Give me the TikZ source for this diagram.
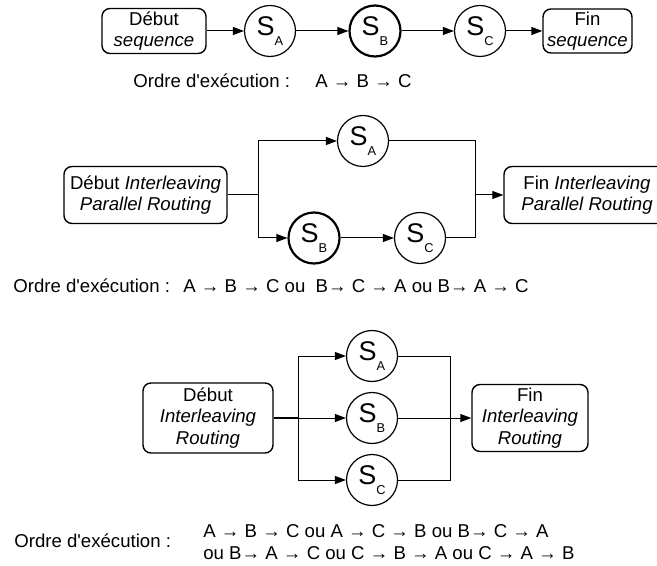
\documentclass[tikz,border=0pt]{standalone}
\usepackage{fontspec}
\setmainfont{Liberation Sans}
\usetikzlibrary{arrows.meta}

\newcommand{\serv}[1]{{\fontsize{13.5}{13.5}\selectfont S}\raisebox{-5pt}{\fontsize{6.4}{6.4}\selectfont #1}}
\newcommand{\ordre}{Ordre d\textquotesingle ex\'ecution :}

\begin{document}
\begin{tikzpicture}[x=0.5pt,y=-0.5pt,
    >={Triangle[length=5.5pt,width=4pt]},
    every node/.style={font=\fontsize{9.3}{10.75}\selectfont},
    boite/.style={draw,rounded corners=4pt,line width=0.7pt,align=center,inner sep=0pt},
    service/.style={draw,circle,line width=0.6pt,minimum size=25.5pt,inner sep=0pt},
    courant/.style={service,line width=1.1pt},
    texte/.style={anchor=west,inner sep=0pt},
    lien/.style={line width=0.5pt}]
            \useasboundingbox (0,0) rectangle (657,566);

            % Sequence
            \node[boite,minimum width=52pt,minimum height=22.5pt] (debutS) at (154,31) {D\'ebut\\\textit{sequence}};
            \node[service] (sA1) at (270,31) {\serv{A}};
            \node[courant] (sB1) at (375,31) {\serv{B}};
            \node[service] (sC1) at (480,31) {\serv{C}};
            \node[boite,minimum width=44.5pt,minimum height=22pt] (finS) at (587.5,31) {Fin\\\textit{sequence}};
            \draw[lien,->] (debutS) -- (sA1);
            \draw[lien,->] (sA1) -- (sB1);
            \draw[lien,->] (sB1) -- (sC1);
            \draw[lien,->] (sC1) -- (finS);

            \node[texte] (ordreS) at (133,81) {\ordre};
            \node[texte] (seqS) at (315,81) {A → B → C};

            % Interleaving parallel routing
            \node[boite,minimum width=81.5pt,minimum height=28.5pt] (debutP) at (145.5,195) {D\'ebut \textit{Interleaving}\\\textit{Parallel Routing}};
            \node[service] (sA2) at (363,141) {\serv{A}};
            \node[courant] (sB2) at (314,238) {\serv{B}};
            \node[service] (sC2) at (420,238) {\serv{C}};
            \node[boite,minimum width=83pt,minimum height=28.5pt] (finP) at (587,195) {Fin \textit{Interleaving}\\\textit{Parallel Routing}};
            \coordinate (forkP) at (258,195);
            \coordinate (joinP) at (475,195);
            \draw[lien,->] (debutP) -- (forkP) |- (sA2);
            \draw[lien,->] (forkP) |- (sB2);
            \draw[lien,->] (sB2) -- (sC2);
            \draw[lien] (sA2) -| (joinP);
            \draw[lien] (sC2) -| (joinP);
            \draw[lien,->] (joinP) -- (finP);

            \node[texte] (ordreP) at (13,286) {\ordre};
            \node[texte] (seqP) at (183,286) {A → B → C ou \ B→ C → A ou B→ A → C};

            % Interleaving routing
            \node[boite,minimum width=65pt,minimum height=35pt] (debutI) at (208,418) {D\'ebut\\\textit{Interleaving}\\\textit{Routing}};
            \node[service] (sA3) at (372,356) {\serv{A}};
            \node[service] (sB3) at (372,418) {\serv{B}};
            \node[service] (sC3) at (372,480) {\serv{C}};
            \node[boite,minimum width=58pt,minimum height=33.5pt] (finI) at (530,418) {Fin\\\textit{Interleaving}\\\textit{Routing}};
            \coordinate (forkI) at (298,418);
            \coordinate (joinI) at (450,418);
            \draw[line width=0.9pt] (debutI) -- (forkI);
            \draw[lien,->] (forkI) |- (sA3);
            \draw[lien,->] (forkI) -- (sB3);
            \draw[lien,->] (forkI) |- (sC3);
            \draw[lien] (sA3) -| (joinI);
            \draw[lien] (sB3) -- (joinI);
            \draw[lien] (sC3) -| (joinI);
            \draw[lien,->] (joinI) -- (finI);

            \node[texte] (ordreI) at (14,541) {\ordre};
            \node[texte,align=left] (seqI) at (203,542) {A → B → C ou A → C → B ou B→ C → A\\ou B→ A → C ou C → B → A ou C → A → B};
        \end{tikzpicture}
\end{document}
